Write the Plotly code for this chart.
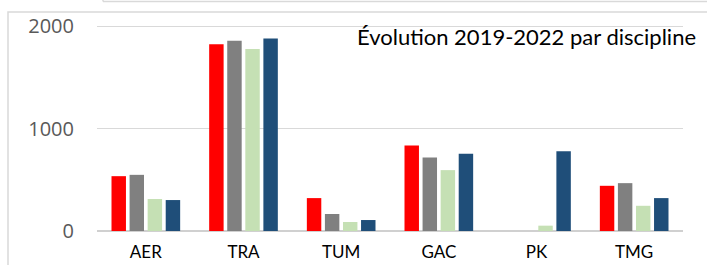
import plotly.graph_objects as go

categories = ["AER", "TRA", "TUM", "GAC", "PK", "TMG"]
series_names = ["2019", "2020", "2021", "2022"]
values_2019 = [535, 1821, 321, 834, 0, 441]
values_2020 = [548, 1857, 166, 718, 0, 467]
values_2021 = [312, 1775, 88, 594, 52, 246]
values_2022 = [302, 1879, 107, 753, 779, 321]
colors = ["#FF0000", "#808080", "#C5E0B4", "#1F4E79"]
y_ticks = [0, 1000, 2000]
title_text = "Évolution 2019-2022 par discipline"

W, H = 707, 265
L, R, T, B = 97, 24, 25, 34
pw, ph = W - L - R, H - T - B

def px(x):
    return (x - L) / pw

def py(y):
    return (H - B - y) / ph

fig = go.Figure()
for name, vals, col in zip(series_names, [values_2019, values_2020, values_2021, values_2022], colors):
    fig.add_trace(go.Bar(x=categories, y=vals, name=name,
                         marker=dict(color=col, line=dict(width=0))))

fig.update_layout(
    width=W, height=H,
    margin=dict(l=L, r=R, t=T, b=B, pad=0, autoexpand=False),
    paper_bgcolor="white", plot_bgcolor="white",
    barmode="group", bargap=0.26, bargroupgap=0.2,
    showlegend=False,
    xaxis=dict(showgrid=False, showline=False, zeroline=False, ticks="",
               automargin=False,
               tickfont=dict(family="Lato", size=17, color="#000000"),
               ticklabelstandoff=9),
    yaxis=dict(range=[0, 2010], tickvals=y_ticks, showgrid=True,
               automargin=False,
               gridcolor="#D9D9D9", gridwidth=1, zeroline=True,
               zerolinecolor="#D0D0D0", zerolinewidth=2, showline=False,
               ticks="", tickfont=dict(family="Open Sans", size=20, color="#595959"),
               ticklabelstandoff=22),
    annotations=[dict(text=title_text, xref="paper", yref="paper",
                      x=px(526), y=py(37), xanchor="center", yanchor="middle",
                      showarrow=False,
                      font=dict(family="Lato", size=22, color="#000000"))],
    shapes=[
        dict(type="rect", xref="paper", yref="paper",
             x0=px(8), x1=px(712), y0=py(275), y1=py(12),
             line=dict(color="#D9D9D9", width=1.5), layer="below"),
        dict(type="line", xref="paper", yref="paper",
             x0=px(103), x1=px(712), y0=py(1.5), y1=py(1.5),
             line=dict(color="#D9D9D9", width=1.5)),
        dict(type="line", xref="paper", yref="paper",
             x0=px(103), x1=px(103), y0=py(-2), y1=py(1.5),
             line=dict(color="#D9D9D9", width=1.5)),
    ],
)

fig.write_html("out.html", config={"displayModeBar": False},
               post_script="document.body.style.margin='0';document.body.style.overflow='hidden';")
